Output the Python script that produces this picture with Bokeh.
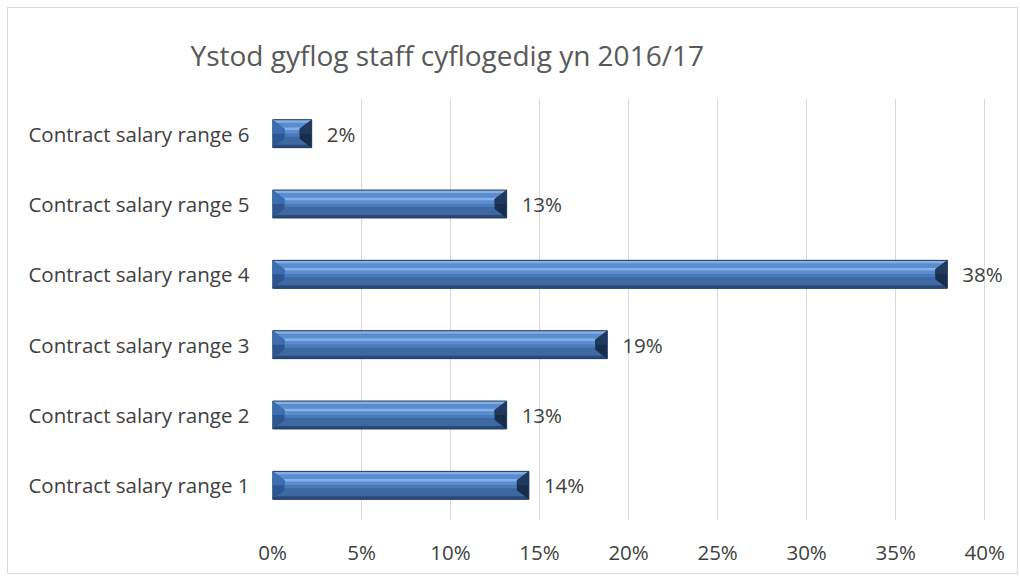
from bokeh.plotting import figure
from bokeh.models import FixedTicker, ColumnDataSource, Range1d
from bokeh.core.properties import value
from bokeh.embed import file_html
from bokeh.resources import INLINE

# ---- data ----
categories = ["Contract salary range 1", "Contract salary range 2", "Contract salary range 3",
              "Contract salary range 4", "Contract salary range 5", "Contract salary range 6"]
values = [14.4, 13.15, 18.8, 37.9, 13.15, 2.2]
value_labels = ["14%", "13%", "19%", "38%", "13%", "2%"]
x_ticks = [0, 5, 10, 15, 20, 25, 30, 35, 40]
x_tick_labels = ["0%", "5%", "10%", "15%", "20%", "25%", "30%", "35%", "40%"]
title_text = "Ystod gyflog staff cyflogedig yn 2016/17"

FONT = "Open Sans"
TXT = "#404040"

p = figure(width=1011, height=567, output_backend="svg", toolbar_location=None,
           x_range=Range1d(0, 41.9), y_range=Range1d(0.5, 6.5),
           min_border_left=264, min_border_right=1, min_border_top=89, min_border_bottom=55)
p.styles = {"border": "1px solid #d9d9d9", "margin-left": "7px", "margin-top": "7px"}
p.outline_line_color = None
p.background_fill_color = "white"
p.border_fill_color = "white"

# title
p.title.text = title_text
p.title.text_font = FONT
p.title.text_font_size = "28px"
p.title.text_font_style = "normal"
p.title.text_color = "#595959"
p.title.align = "left"
p.title.offset = -82
p.title.standoff = 50

# grid
p.ygrid.grid_line_color = None
p.xgrid.grid_line_color = "#d9d9d9"
p.xgrid.ticker = FixedTicker(ticks=x_ticks)

# axes
p.xaxis.ticker = FixedTicker(ticks=x_ticks)
p.xaxis.major_label_overrides = {t: l for t, l in zip(x_ticks, x_tick_labels)}
p.yaxis.ticker = FixedTicker(ticks=list(range(1, len(categories) + 1)))
p.yaxis.major_label_overrides = {i + 1: c for i, c in enumerate(categories)}
for ax in (p.xaxis, p.yaxis):
    ax.axis_line_color = None
    ax.major_tick_line_color = None
    ax.minor_tick_line_color = None
    ax.major_tick_out = 0
    ax.major_tick_in = 0
    ax.major_label_text_font = FONT
    ax.major_label_text_font_size = "20.5px"
    ax.major_label_text_color = TXT
p.xaxis.major_label_standoff = 17
p.yaxis.major_label_standoff = 23

# bevelled bars built from data (px -> data conversions)
PXX = 1 / 17.8
PXY = 1 / 70.5
h = 14 * PXY          # half bar height
cap = 12 * PXX        # end-cap depth
cap_in = 5 * PXY      # inner half-height of end caps
band = 3 * PXY        # top / bottom edge band
ys = list(range(1, len(values) + 1))

src = ColumnDataSource(dict(y=ys, right=values))
# upper face
p.hbar(y="y", left=0, right="right", height=2 * h, source=src,
       fill_color="#5a8dcf", line_color=None)
# lower face
low_src = ColumnDataSource(dict(y=[c - h / 2 for c in ys], right=values))
p.hbar(y="y", left=0, right="right", height=h, source=low_src,
       fill_color="#3d68a2", line_color=None)
mid_src = ColumnDataSource(dict(y=[c - 1.5 * PXY for c in ys], right=values))
p.hbar(y="y", left=0, right="right", height=3 * PXY, source=mid_src,
       fill_color="#4a7aba", line_color=None)
# highlight line
hi_src = ColumnDataSource(dict(y=[c + 5 * PXY for c in ys], right=values))
p.hbar(y="y", left=0, right="right", height=2.5 * PXY, source=hi_src,
       fill_color="#84b0e6", line_color=None)
# top and bottom bands
top_src = ColumnDataSource(dict(y=[c + h - band / 2 for c in ys], right=values))
p.hbar(y="y", left=0, right="right", height=band, source=top_src,
       fill_color="#86aee0", line_color=None)
bot_src = ColumnDataSource(dict(y=[c - h + band / 2 for c in ys], right=values))
p.hbar(y="y", left=0, right="right", height=band, source=bot_src,
       fill_color="#284a7a", line_color=None)

# end caps
lef_x, lef_y, rig_x, rig_y = [], [], [], []
lt_x, lt_y, rt_x, rt_y = [], [], [], []
for c, v in zip(ys, values):
    lef_x.append([0, 0, cap, cap]); lef_y.append([c - h, c + h, c + cap_in, c - cap_in])
    lt_x.append([0, 0, cap, cap]); lt_y.append([c, c + h, c + cap_in, c])
    rig_x.append([v, v, v - cap, v - cap]); rig_y.append([c - h, c + h, c + cap_in, c - cap_in])
    rt_x.append([v, v, v - cap, v - cap]); rt_y.append([c, c + h, c + cap_in, c])
p.patches(lef_x, lef_y, fill_color="#2d5690", line_color=None)
p.patches(lt_x, lt_y, fill_color="#3b6db0", line_color=None)
p.patches(rig_x, rig_y, fill_color="#182c4c", line_color=None)
p.patches(rt_x, rt_y, fill_color="#22395f", line_color=None)

# outline
p.hbar(y="y", left=0, right="right", height=2 * h, source=src,
       fill_color=None, line_color="#223c63", line_width=1)

# value labels
lab_src = ColumnDataSource(dict(x=values, y=ys, t=value_labels))
p.text(x="x", y="y", text="t", source=lab_src, x_offset=15,
       text_font=value(FONT), text_font_size="20.5px", text_color=TXT,
       text_baseline="middle", text_align="left")

open("out.html", "w").write(file_html(p, INLINE))
